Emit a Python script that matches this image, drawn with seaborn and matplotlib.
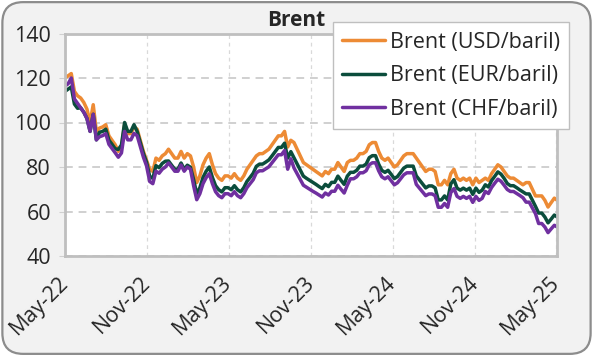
import pandas as pd
import matplotlib
matplotlib.use("Agg")
import matplotlib.pyplot as plt
from matplotlib.patches import FancyBboxPatch
import seaborn as sns

# weekly Brent prices
START = "2022-05-01"
USD = [120, 121, 122, 114, 112, 111, 109, 106, 100, 108, 96, 97.5, 98, 99, 94, 92, 90, 87, 89, 99,
       95, 95, 98, 97, 92, 87, 83, 79, 78, 84, 83, 85, 86, 88, 86, 84, 84, 87, 84, 86,
       85, 80, 73, 76, 81, 84, 86, 81, 77, 75, 74, 76, 76, 75, 77, 75, 74, 76, 79, 81,
       83, 85, 86, 86, 87, 88, 90, 92, 94, 94, 96, 89, 92, 91, 88, 85, 82, 81, 80, 79,
       78, 77, 76, 78, 77, 79, 79, 82, 80, 78, 82, 83, 83, 84, 86, 86, 87, 90, 91, 91,
       87, 84, 83, 84, 82, 80, 81, 83, 85, 86, 86, 86, 84, 82, 80, 78, 79, 79, 78, 72,
       72, 74, 72, 77, 79, 75, 74, 75, 74, 75, 72, 75, 73, 74, 75, 74, 77, 79, 81, 80,
       78, 76, 75, 75, 74, 73, 72, 73, 73, 70, 67, 67, 67, 65, 62, 64, 66, 65]
EUR = [114, 115, 116, 108.3, 106.4, 106.6, 104.6, 101.8, 96, 103.7, 92.2, 95.6, 96, 97, 92.1, 90.2, 88.2, 87.9, 89.9, 100,
       96, 96, 99, 96, 91.1, 86.1, 82.2, 75.8, 74.9, 80.6, 79.7, 81.6, 82.6, 82.7, 80.8, 79, 79, 81.8, 79, 80.8,
       79.9, 74.4, 67.9, 70.7, 75.3, 78.1, 80, 75.3, 71.6, 69.8, 68.8, 70.7, 70.7, 69.8, 71.6, 69.8, 68.8, 70.7, 73.5, 75.3,
       77.2, 80.3, 81.3, 81.3, 82.2, 83.2, 85, 86.9, 88.8, 88.8, 90.7, 84, 86.9, 84.2, 81.4, 78.6, 75.9, 74.9, 74, 73.1,
       72.2, 71.2, 70.3, 72.2, 71.2, 73.1, 73.1, 75.9, 74, 72.2, 75.9, 77.6, 77.6, 78.5, 80.4, 80.4, 81.3, 84.2, 85.1, 85.1,
       81.3, 78.5, 77.6, 78.5, 76.7, 74.8, 75.7, 77.6, 79.5, 80.4, 80.4, 80.4, 76, 74.2, 72.4, 70.6, 71.5, 71.5, 70.6, 65.2,
       65.2, 67, 65.2, 72.4, 74.3, 70.5, 69.6, 70.5, 69.6, 70.5, 67.7, 70.5, 68.6, 69.6, 72, 71, 73.9, 75.8, 77.8, 76.8,
       74.9, 72.6, 71.6, 71.6, 70.7, 69.7, 68.8, 67.9, 67.9, 65.1, 62.3, 59.3, 59.3, 57.5, 54.9, 56.6, 58.4, 57.5]
CHF = [116.4, 117.4, 120, 110.6, 108.6, 106.6, 104.6, 101.8, 96, 103.7, 92.2, 93.6, 94.1, 95, 90.2, 88.3, 86.4, 84.4, 86.3, 96,
       92.2, 92.2, 95.1, 94.1, 89.2, 84.4, 80.5, 73.5, 72.5, 78.1, 77.2, 79, 80, 81.8, 80, 78.1, 78.1, 80.9, 78.1, 80,
       79, 71.6, 65.3, 68, 72.5, 75.2, 77, 72.5, 68.9, 67.1, 66.2, 68, 68, 67.1, 68.9, 67.1, 66.2, 68, 70.7, 72.5,
       74.3, 77.4, 78.3, 78.3, 79.2, 80.1, 81.9, 83.7, 85.5, 85.5, 87.4, 79, 83.7, 79.6, 77, 74.4, 71.8, 70.9, 70, 69.1,
       68.3, 67.4, 66.5, 68.3, 67.4, 69.1, 69.1, 71.8, 70, 68.3, 71.8, 74.7, 74.7, 75.6, 77.4, 77.4, 78.3, 81, 81.9, 81.9,
       78.3, 75.6, 74.7, 75.6, 73.8, 72, 72.9, 74.7, 76.5, 77.4, 77.4, 77.4, 72.2, 70.5, 68.8, 67.1, 67.9, 67.9, 67.1, 61.9,
       61.9, 63.6, 61.9, 68.5, 70.3, 66.8, 65.9, 66.8, 65.9, 66.8, 64.1, 66.8, 65, 65.9, 69, 68.1, 70.8, 72.7, 74.5, 73.6,
       71.8, 69.9, 69, 69, 68.1, 67.2, 66.2, 64.2, 64.2, 61.6, 59, 54.6, 54.6, 53, 50.5, 52.2, 53.8, 53]

SERIES = ["Brent (USD/baril)", "Brent (EUR/baril)", "Brent (CHF/baril)"]
COLORS = ["#ED8B35", "#0B4D3C", "#7030A0"]
TICK_DATES = ["2022-05-01", "2022-11-01", "2023-05-01", "2023-11-01",
              "2024-05-01", "2024-11-01", "2025-05-01"]
TICK_LABELS = ["May-22", "Nov-22", "May-23", "Nov-23", "May-24", "Nov-24", "May-25"]
Y_TICKS = [40, 60, 80, 100, 120, 140]

dates = pd.date_range(START, periods=len(USD), freq="7D")
df = pd.concat([pd.DataFrame({"date": dates, "value": v, "series": s})
                for s, v in zip(SERIES, [USD, EUR, CHF])], ignore_index=True)

sns.set_style("white")
plt.rcParams["font.family"] = ["Open Sans", "DejaVu Sans"]

fig = plt.figure(figsize=(5.93, 3.56), dpi=100, facecolor="white")
bg = FancyBboxPatch((0.004, 0.006), 0.992, 0.988, boxstyle="round,pad=0,rounding_size=0.035",
                    mutation_aspect=593 / 356, transform=fig.transFigure,
                    facecolor="#f2f2f2", edgecolor="#8c8c8c", lw=1.6, zorder=-10)
fig.add_artist(bg)

ax = fig.add_axes([65 / 593, 1 - 256 / 356, 492 / 593, 222.5 / 356])
ax.set_facecolor("white")
sns.lineplot(data=df, x="date", y="value", hue="series", hue_order=SERIES,
             palette=dict(zip(SERIES, COLORS)), lw=2.5, ax=ax)

ax.set_ylim(40, 140)
ax.set_yticks(Y_TICKS)
ax.set_xlim(pd.Timestamp("2022-05-01"), pd.Timestamp("2025-05-03"))
ax.set_xticks(pd.to_datetime(TICK_DATES))
ax.set_xticklabels(TICK_LABELS, rotation=45, ha="right", va="center", rotation_mode="anchor")
ax.set_xlabel("")
ax.set_ylabel("")
ax.set_axisbelow(True)
ax.grid(axis="y", ls=(0, (4, 3)), color="#d0d0d0", lw=1.4)
ax.grid(axis="x", ls=(0, (3, 3)), color="#d9d9d9", lw=0.9)
for sp in ax.spines.values():
    sp.set_color("#bfbfbf")
    sp.set_linewidth(2)
ax.tick_params(axis="y", length=4, color="#d0d0d0", pad=6, labelsize=15.5, left=True)
ax.tick_params(axis="x", length=0, pad=17, labelsize=15.5)

fig.text(0.5, 1 - 20 / 356, "Brent", ha="center", va="center", fontsize=15, fontweight="bold")

ax.legend(loc="upper right", bbox_to_anchor=(1.025, 1.052), frameon=True, fancybox=False,
          edgecolor="#bfbfbf", framealpha=1, fontsize=15.5, handlelength=2.0,
          handletextpad=0.2, borderpad=0.45, labelspacing=0.58, borderaxespad=0)

fig.savefig("out.png", dpi=100, facecolor=fig.get_facecolor())
